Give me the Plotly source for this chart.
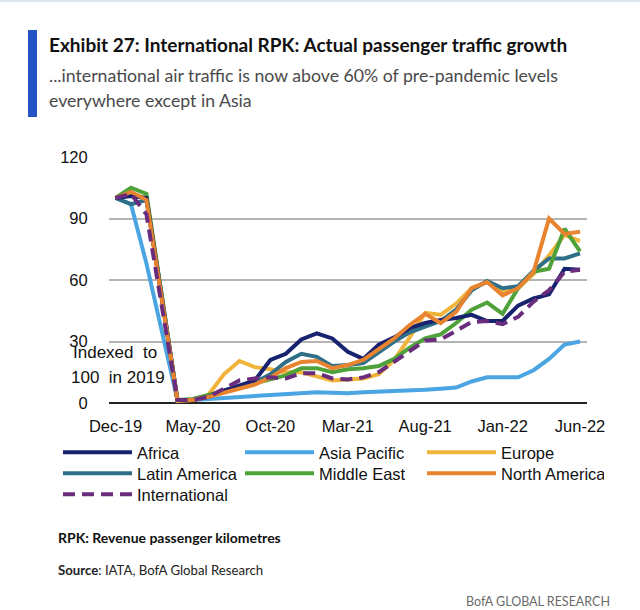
import plotly.graph_objects as go

months = ["Dec-19","Jan-20","Feb-20","Mar-20","Apr-20","May-20","Jun-20","Jul-20","Aug-20","Sep-20",
          "Oct-20","Nov-20","Dec-20","Jan-21","Feb-21","Mar-21","Apr-21","May-21","Jun-21","Jul-21",
          "Aug-21","Sep-21","Oct-21","Nov-21","Dec-21","Jan-22","Feb-22","Mar-22","Apr-22","May-22","Jun-22"]
tick_labels = ["Dec-19","May-20","Oct-20","Mar-21","Aug-21","Jan-22","Jun-22"]
y_ticks = [0, 30, 60, 90, 120]

africa = [100, 101, 100, 50, 1.5, 1.5, 3, 6, 8.5, 11, 21, 24, 31, 34, 31.5, 25, 21.5, 28.5, 32, 36.5,
          39, 40.5, 41.5, 43, 40, 40, 47.5, 51, 53, 65.5, 65]
asia_pacific = [100, 97, 68, 35, 1.5, 1.5, 2, 2.5, 3, 3.5, 4, 4.3, 4.8, 5.3, 5, 4.7, 5.2, 5.5, 5.5, 6,
                6.5, 7, 7.5, 10.5, 12.5, 12.5, 12.5, 16, 21.5, 28.5, 30]
europe = [100, 102, 100, 50, 1, 1.5, 4, 14, 20.5, 17.5, 16.5, 15, 15, 13, 11, 11.5, 12, 14, 21, 32,
          44, 43, 48.5, 56, 59, 54, 56, 63, 72, 82, 79]
latin_america = [100, 97, 99, 52, 1.5, 1.5, 3, 6, 8, 10, 14, 20, 24, 22.5, 18, 18.5, 19.5, 25, 30, 34.5,
                 37.5, 40, 45.5, 55, 59.5, 56, 57, 64.5, 70.5, 70.5, 73]
middle_east = [100, 105, 102, 53, 1.5, 2, 4, 6, 8, 10, 11.5, 13.5, 17, 17, 15, 16.5, 17, 18, 21.5, 27,
               31.5, 33.5, 39, 45.5, 49, 43.5, 56, 64, 65.5, 85, 74]
north_america = [100, 103, 99, 50, 1.5, 1.5, 3, 5, 7, 9, 12.5, 17, 20, 20.5, 17, 18.5, 21, 26, 31.5, 38,
                 43.5, 39, 44.5, 56, 59, 52.5, 56, 64, 90, 82.5, 83.5]
international = [100, 102, 92, 46, 1.5, 1.5, 3, 7, 11, 12, 12.5, 12, 14.5, 14.5, 12, 11.5, 12.5, 15, 20, 25,
                 30.5, 31, 35.5, 39.5, 40, 38.5, 42, 49.5, 55, 64, 65]

W, H = 640, 610
L, R, T, B = 109, 587, 157, 403

def px(x):
    return (x - L) / (R - L)

def py(y):
    return (B - y) / (B - T)

xidx = list(range(len(months)))

series = [
    # name, data, color, dash, legend row, rank
    ("Asia Pacific", asia_pacific, "#4aa5e2", "solid", "legend", 2),
    ("Europe", europe, "#f1b43a", "solid", "legend", 3),
    ("Latin America", latin_america, "#2f6f88", "solid", "legend2", 4),
    ("Middle East", middle_east, "#4fa23a", "solid", "legend2", 5),
    ("Africa", africa, "#18236f", "solid", "legend", 1),
    ("North America", north_america, "#e8832f", "solid", "legend2", 6),
    ("International", international, "#6a2c7c", "12px,7px", "legend3", 7),
]

fig = go.Figure()
for name, data, color, dash, leg, rank in series:
    fig.add_trace(go.Scatter(
        x=xidx, y=data, mode="lines", name=name, legend=leg, legendrank=rank,
        customdata=months, hovertemplate="%{customdata}: %{y}<extra>" + name + "</extra>",
        line=dict(color=color, width=4, dash=dash),
    ))

FONT = "Liberation Sans, Arial, sans-serif"
HEAD = "Lato, Roboto, sans-serif"

def legend_row(top):
    return dict(
        orientation="h", xref="paper", yref="paper",
        x=px(58), y=py(top), xanchor="left", yanchor="top",
        font=dict(family=FONT, size=16.5, color="#111111"),
        itemwidth=69, entrywidth=98, entrywidthmode="pixels",
        bgcolor="rgba(0,0,0,0)", borderwidth=0, traceorder="normal",
    )

fig.update_layout(
    width=W, height=H, autosize=False,
    margin=dict(l=L, r=W - R, t=T, b=H - B, pad=0),
    paper_bgcolor="white", plot_bgcolor="white",
    font=dict(family=FONT, size=16.5, color="#111111"),
    showlegend=True,
    legend=legend_row(435),
    legend2=legend_row(456),
    legend3=legend_row(477),
    xaxis=dict(
        range=[-0.42, 30.45], tickmode="array",
        tickvals=[months.index(t) for t in tick_labels], ticktext=tick_labels,
        showgrid=False, zeroline=False, showline=False,
        ticks="outside", ticklen=8, tickcolor="rgba(0,0,0,0)",
        tickfont=dict(family=FONT, size=16.5, color="#111111"),
    ),
    yaxis=dict(
        range=[0, 120], tickmode="array", tickvals=y_ticks,
        showgrid=True, gridcolor="#b4b4b4", gridwidth=1.5,
        zeroline=True, zerolinecolor="#222222", zerolinewidth=2,
        showline=False, ticks="outside", ticklen=17, tickcolor="rgba(0,0,0,0)",
        tickfont=dict(family=FONT, size=16.5, color="#111111"),
    ),
    shapes=[
        dict(type="rect", xref="paper", yref="paper", x0=px(28), x1=px(37), y0=py(117), y1=py(30),
             fillcolor="#2453c4", line=dict(width=0), layer="above"),
        dict(type="line", xref="paper", yref="paper", x0=px(0), x1=px(640), y0=py(1), y1=py(1),
             line=dict(color="#dfe7ee", width=2)),
    ],
    annotations=[
        dict(text="<b>Exhibit 27: International RPK: Actual passenger traffic growth</b>",
             xref="paper", yref="paper", x=px(47), y=py(44), xanchor="left", yanchor="middle",
             showarrow=False, font=dict(family=HEAD, size=19, color="#111111")),
        dict(text="...international air traffic is now above 60% of pre-pandemic levels",
             xref="paper", yref="paper", x=px(47), y=py(75), xanchor="left", yanchor="middle",
             showarrow=False, font=dict(family=HEAD, size=17.7, color="#4a4a4a")),
        dict(text="everywhere except in Asia",
             xref="paper", yref="paper", x=px(47), y=py(100), xanchor="left", yanchor="middle",
             showarrow=False, font=dict(family=HEAD, size=17.7, color="#4a4a4a")),
        dict(text="Indexed  to", xref="paper", yref="paper", x=px(71), y=py(352),
             xanchor="left", yanchor="middle", showarrow=False,
             font=dict(family=FONT, size=17, color="#111111")),
        dict(text="100  in 2019", xref="paper", yref="paper", x=px(69), y=py(377),
             xanchor="left", yanchor="middle", showarrow=False,
             font=dict(family=FONT, size=17, color="#111111")),
        dict(text="<b>RPK: Revenue passenger kilometres</b>",
             xref="paper", yref="paper", x=px(56), y=py(537), xanchor="left", yanchor="middle",
             showarrow=False, font=dict(family=HEAD, size=14, color="#111111")),
        dict(text="<b>Source</b>: IATA, BofA Global Research",
             xref="paper", yref="paper", x=px(56), y=py(570), xanchor="left", yanchor="middle",
             showarrow=False, font=dict(family=HEAD, size=13.2, color="#222222")),
        dict(text="BofA GLOBAL RESEARCH",
             xref="paper", yref="paper", x=px(612), y=py(601), xanchor="right", yanchor="middle",
             showarrow=False, font=dict(family=HEAD, size=12.5, color="#6a6a6a")),
    ],
)

fig.write_html("out.html")
